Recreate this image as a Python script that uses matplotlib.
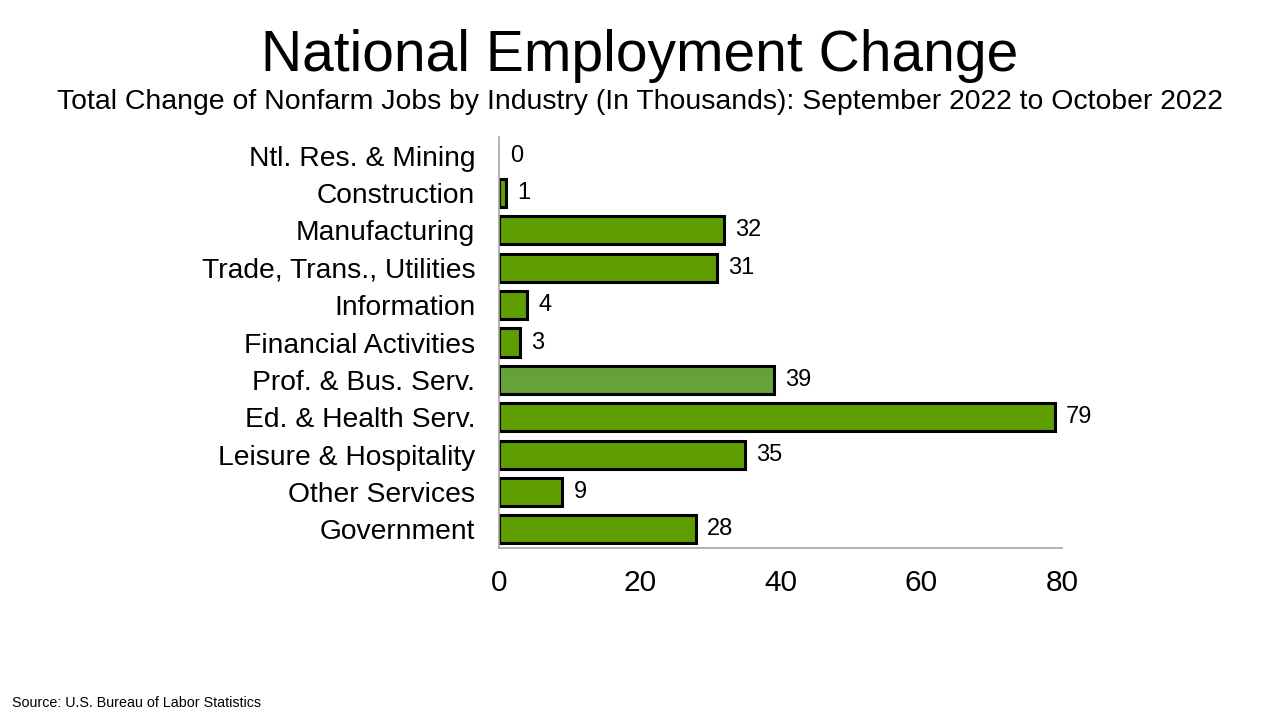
import matplotlib as mpl
mpl.use('Agg')
import matplotlib.pyplot as plt

plt.rcParams['font.family'] = ['Liberation Sans', 'DejaVu Sans']

industries = ['Ntl. Res. & Mining', 'Construction', 'Manufacturing',
              'Trade, Trans., Utilities', 'Information', 'Financial Activities',
              'Prof. & Bus. Serv.', 'Ed. & Health Serv.', 'Leisure & Hospitality',
              'Other Services', 'Government']
changes = [0, 1, 32, 31, 4, 3, 39, 79, 35, 9, 28]
x_ticks = [0, 20, 40, 60, 80]

green = '#5f9e00'
green_alt = '#66a23a'

fig = plt.figure(figsize=(12.8, 7.2), dpi=100)
ax = fig.add_axes([0.3898, 0.2389, 0.4400, 0.5708])

pos = list(range(len(industries)))
colors = [green_alt if name.startswith('Prof.') else green for name in industries]
widths = [2.2 if v != 0 else 0 for v in changes]
bars = ax.barh(pos, changes, height=0.75, color=colors, edgecolor='black',
               linewidth=widths)
ax.bar_label(bars, labels=[str(v) for v in changes], padding=8, fontsize=17)

ax.set_ylim(len(industries) - 0.5, -0.5)
ax.set_xlim(0, 80)
ax.set_yticks(pos)
ax.set_yticklabels(industries, fontsize=20.3)
ax.set_xticks(x_ticks)
ax.set_xticklabels([str(t) for t in x_ticks], fontsize=21.5)
ax.tick_params(axis='both', length=0)
ax.tick_params(axis='y', pad=17)
ax.tick_params(axis='x', pad=15)

for side in ['top', 'right']:
    ax.spines[side].set_visible(False)
for side in ['left', 'bottom']:
    ax.spines[side].set_color('#a6a6a6')
    ax.spines[side].set_linewidth(1.2)

fig.text(0.5, 0.922, 'National Employment Change', ha='center', va='center',
         fontsize=41)
fig.text(0.5, 0.858, 'Total Change of Nonfarm Jobs by Industry (In Thousands): '
         'September 2022 to October 2022', ha='center', va='center', fontsize=20.4)
fig.text(0.009, 0.024, 'Source: U.S. Bureau of Labor Statistics', ha='left',
         va='center', fontsize=10.3)

fig.savefig('out.png', dpi=100, facecolor='white')
